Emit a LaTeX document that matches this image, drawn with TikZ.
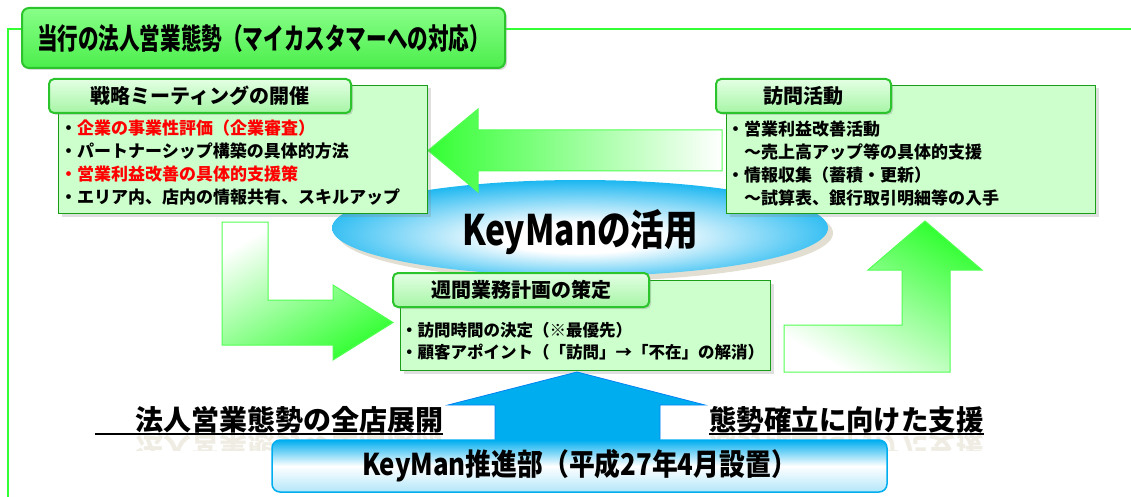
\documentclass[tikz,border=0pt]{standalone}
\usepackage{fontspec}
\setmainfont{Noto Sans CJK JP}
\usepackage{tikz}
\usetikzlibrary{calc}
\usetikzlibrary{shadows}
\usetikzlibrary{shapes.geometric}
\definecolor{lgreen}{HTML}{CCFFCC}
\definecolor{bgreen}{HTML}{1A9E1A}
\definecolor{vgreen}{HTML}{33FF33}
\definecolor{ttop}{HTML}{88FF88}
\definecolor{tbot}{HTML}{4CEE4C}
\definecolor{tline}{HTML}{2CC42C}
\definecolor{tabtop}{HTML}{E4FFE4}
\definecolor{tabbot}{HTML}{A6F5A6}
\definecolor{kblue}{HTML}{00AEEF}
\definecolor{shd}{HTML}{E2DFD2}
\definecolor{rfl}{HTML}{EFEDE3}
\pgfdeclareradialshading{kmshade}{\pgfpoint{0bp}{-6bp}}{color(0bp)=(white); color(8bp)=(white); color(30bp)=(kblue); color(50bp)=(kblue)}

\begin{document}
\begin{tikzpicture}[x=1pt,y=-1pt,
  frame/.style={draw=vgreen,line width=1.5},
  ttl/.style={rounded corners=7,draw=tline,line width=2,top color=ttop,bottom color=tbot,
    drop shadow={shadow xshift=2pt,shadow yshift=-2pt,opacity=.3},font=\fontsize{29}{32}\selectfont\bfseries},
  tab/.style={rounded corners=5,draw=tline,line width=2,top color=tabtop,bottom color=tabbot,
    minimum height=34,anchor=north west,font=\fontsize{20}{24}\selectfont\bfseries,
    drop shadow={shadow xshift=2pt,shadow yshift=-2pt,opacity=.3}},
  body/.style={draw=bgreen,fill=lgreen,line width=1,anchor=north west,
    drop shadow={shadow xshift=3pt,shadow yshift=-3pt,opacity=.25}},
  txt/.style={inner sep=0,align=left,anchor=west,font=\fontsize{17}{23}\selectfont\bfseries},
  garrow/.style={draw=vgreen!85,line width=1},
  ul/.style={inner sep=0,anchor=base,font=\fontsize{28}{30}\selectfont\bfseries},
  refl/.style={ul,text=rfl}]
\useasboundingbox (0,0) rectangle (1131,497);
\draw[frame] (8,497) -- (8,29) -- (1131,29);
\node[ttl,minimum width=483,minimum height=60] (ttl) at (263.5,38)
  {\scalebox{0.71}[1]{当行の法人営業態勢（マイカスタマーへの対応）}};

\node[ellipse,minimum width=496,minimum height=96,shade,shading=kmshade,
  drop shadow={shadow xshift=5pt,shadow yshift=-5pt,fill=shd,opacity=1}] (km) at (580,228) {};
\node[inner sep=0,font=\fontsize{42}{44}\selectfont\bfseries] (kmt) at (580,232)
  {\scalebox{0.8}[1]{KeyManの活用}};

\path[garrow,left color=vgreen,right color=white]
  (722,130) -- (478,130) -- (478,109) -- (428,150.5) -- (478,192) -- (478,171) -- (722,171) -- cycle;

\node[body,minimum width=369,minimum height=128] (b1) at (58,85) {};
\node[tab,minimum width=302] (t1) at ([shift={(-10,-7)}]b1.north west) {戦略ミーティングの開催};
\node[txt] (x1) at (60,162.5)
  {・{\color{red}企業の事業性評価（企業審査）}\\・パートナーシップ構築の具体的方法\\
   {\color{red}・営業利益改善の具体的支援策}\\・エリア内、店内の情報共有、スキルアップ};

\node[body,minimum width=369,minimum height=128] (b2) at (726,85) {};
\node[tab,minimum width=175] (t2) at ([shift={(-11,-7)}]b2.north west) {訪問活動};
\node[txt] (x2) at (727,163.5)
  {・営業利益改善活動\\　～売上高アップ等の具体的支援\\・情報収集（蓄積・更新）\\　～試算表、銀行取引明細等の入手};

\path[garrow,top color=white,bottom color=vgreen,shading angle=30]
  (222,222) -- (268,222) -- (268,300) -- (333,300) -- (333,285) -- (393,322.5)
  -- (333,360) -- (333,345) -- (222,345) -- cycle;
\path[garrow,top color=vgreen,bottom color=white,shading angle=-30]
  (784,325) -- (902,325) -- (902,270) -- (868,270) -- (925,221) -- (982,270)
  -- (950,270) -- (950,372) -- (784,372) -- cycle;

\node[body,minimum width=370,minimum height=90] (b3) at (400,280) {};
\node[tab,minimum width=256] (t3) at ([shift={(-8,-8)}]b3.north west) {週間業務計画の策定};
\node[txt,font=\fontsize{16.5}{22}\selectfont\bfseries] (x3) at (401,341)
  {・訪問時間の決定（※最優先）\\・顧客アポイント（「訪問」→「不在」の解消）};

\path[draw=kblue!75!blue,fill=kblue,line width=.8]
  (577,372) -- (705,405) -- (660,405) -- (660,445) -- (495,445) -- (495,405) -- (448,405) -- cycle;

\begin{scope}
\clip (0,435) rectangle (1131,450);
\node[refl] at (289,437) {\scalebox{1}[-1]{法人営業態勢の全店展開}};
\node[refl] at (846.5,437) {\scalebox{0.98}[-1]{態勢確立に向けた支援}};
\end{scope}
\node[ul] (zen) at (289,430) {法人営業態勢の全店展開};
\draw[line width=1.2] ($(zen.base west)+(-40,4)$) -- ($(zen.base east)+(0,4)$);
\node[ul] (shi) at (846.5,430) {\scalebox{0.98}[1]{態勢確立に向けた支援}};
\draw[line width=1.2] ($(shi.base west)+(0,4)$) -- ($(shi.base east)+(0,4)$);

\node[rounded corners=8,minimum width=615,minimum height=52,draw=kblue,line width=1.5,
  top color=kblue,bottom color=kblue!30,middle color=white,
  font=\fontsize{30}{32}\selectfont\bfseries] (kp) at (579.5,466)
  {\scalebox{0.86}[1]{KeyMan推進部（平成27年4月設置）}};
\end{tikzpicture}
\end{document}
